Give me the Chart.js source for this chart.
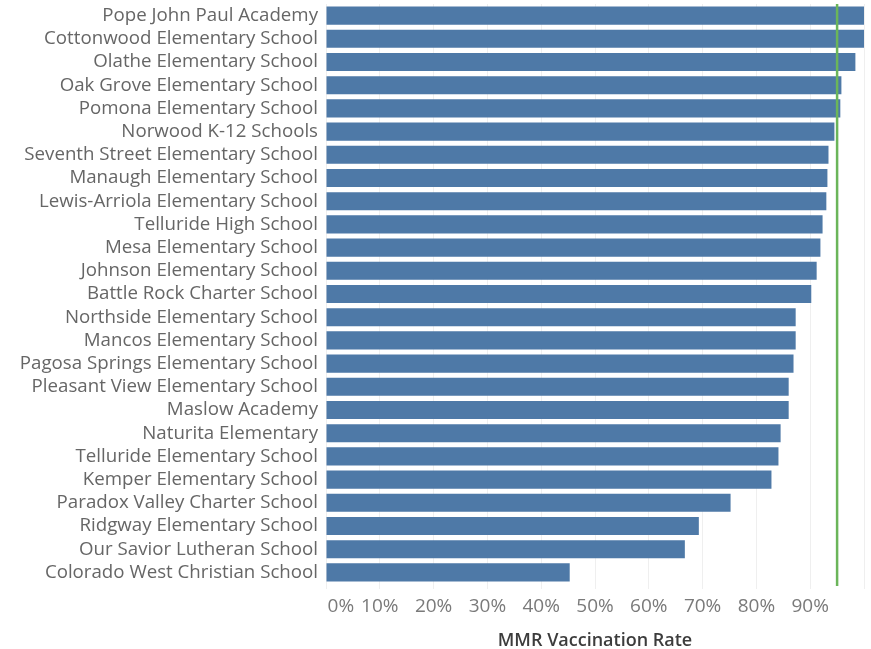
<!DOCTYPE html>
<html>
<head>
<meta charset="utf-8">
<script src="https://cdn.jsdelivr.net/npm/chart.js@4"></script>
<style>
  html, body { margin: 0; padding: 0; background: #fff; }
  #wrap { width: 871px; height: 649px; position: relative; }
</style>
</head>
<body>
<div id="wrap"><canvas id="grafico"></canvas></div>
<script>
// escuelas y tasa de vacunacion MMR (fraccion)
const escuelas = [
  'Pope John Paul Academy',
  'Cottonwood Elementary School',
  'Olathe Elementary School',
  'Oak Grove Elementary School',
  'Pomona Elementary School',
  'Norwood K-12 Schools',
  'Seventh Street Elementary School',
  'Manaugh Elementary School',
  'Lewis-Arriola Elementary School',
  'Telluride High School',
  'Mesa Elementary School',
  'Johnson Elementary School',
  'Battle Rock Charter School',
  'Northside Elementary School',
  'Mancos Elementary School',
  'Pagosa Springs Elementary School',
  'Pleasant View Elementary School',
  'Maslow Academy',
  'Naturita Elementary',
  'Telluride Elementary School',
  'Kemper Elementary School',
  'Paradox Valley Charter School',
  'Ridgway Elementary School',
  'Our Savior Lutheran School',
  'Colorado West Christian School'
];

const tasas = [
  1.000, 1.000, 0.984, 0.958, 0.956, 0.945, 0.934, 0.932, 0.930, 0.923,
  0.919, 0.912, 0.902, 0.873, 0.873, 0.869, 0.860, 0.860, 0.845, 0.841,
  0.828, 0.752, 0.693, 0.667, 0.453
];

const marcas = [0, 0.1, 0.2, 0.3, 0.4, 0.5, 0.6, 0.7, 0.8, 0.9, 1.0];
const meta = 0.95;   // linea de referencia (95%)

const fuente = "'Open Sans', 'Noto Sans', sans-serif";

// linea verde de la meta
const lineaMeta = {
  id: 'lineaMeta',
  afterDatasetsDraw(chart) {
    const x = chart.scales.x.getPixelForValue(meta);
    const area = chart.chartArea;
    const ctx = chart.ctx;
    ctx.save();
    ctx.strokeStyle = '#6bb55a';
    ctx.lineWidth = 2.5;
    ctx.beginPath();
    ctx.moveTo(x, area.top);
    ctx.lineTo(x, area.bottom + 2);
    ctx.stroke();
    ctx.restore();
  }
};

const cnv = document.getElementById('grafico');

new Chart(cnv, {
  type: 'bar',
  data: {
    labels: escuelas,
    datasets: [{
      label: 'MMR Vaccination Rate',
      data: tasas,
      backgroundColor: '#4e79a7',
      borderWidth: 0,
      categoryPercentage: 1,
      barPercentage: 0.78
    }]
  },
  options: {
    indexAxis: 'y',
    responsive: true,
    maintainAspectRatio: false,
    animation: false,
    layout: { padding: { top: 4, right: 7, left: 0, bottom: 0 } },
    plugins: {
      legend: { display: false },
      tooltip: { enabled: false }
    },
    scales: {
      x: {
        min: 0,
        max: 1,
        afterBuildTicks(scale) {
          scale.ticks = marcas.map(v => ({ value: v }));
        },
        afterFit(scale) {
          scale.height = 65;
          scale.paddingLeft = 0;
          scale.paddingRight = 0;
        },
        border: { display: false },
        grid: {
          color: '#efefef',
          lineWidth: 1,
          drawTicks: true,
          tickLength: 5
        },
        ticks: {
          padding: 6,
          maxRotation: 0,
          autoSkip: false,
          color: '#7a7a7a',
          font: { family: fuente, size: 19 },
          callback(v) {
            if (v >= 1) return '';
            if (v === 0) return '      0%';
            return Math.round(v * 100) + '%';
          }
        },
        title: {
          display: true,
          text: 'MMR Vaccination Rate',
          color: '#3c3c3c',
          font: { family: fuente, size: 18, weight: '600' },
          padding: { top: 0, bottom: -3 }
        }
      },
      y: {
        afterFit(scale) {
          scale.width = 326;
          scale.paddingTop = 0;
          scale.paddingBottom = 0;
        },
        border: { display: false },
        grid: { display: false, drawTicks: false },
        ticks: {
          padding: 8,
          autoSkip: false,
          color: '#666',
          font: { family: fuente, size: 18.7 }
        }
      }
    }
  },
  plugins: [lineaMeta]
});
</script>
</body>
</html>
